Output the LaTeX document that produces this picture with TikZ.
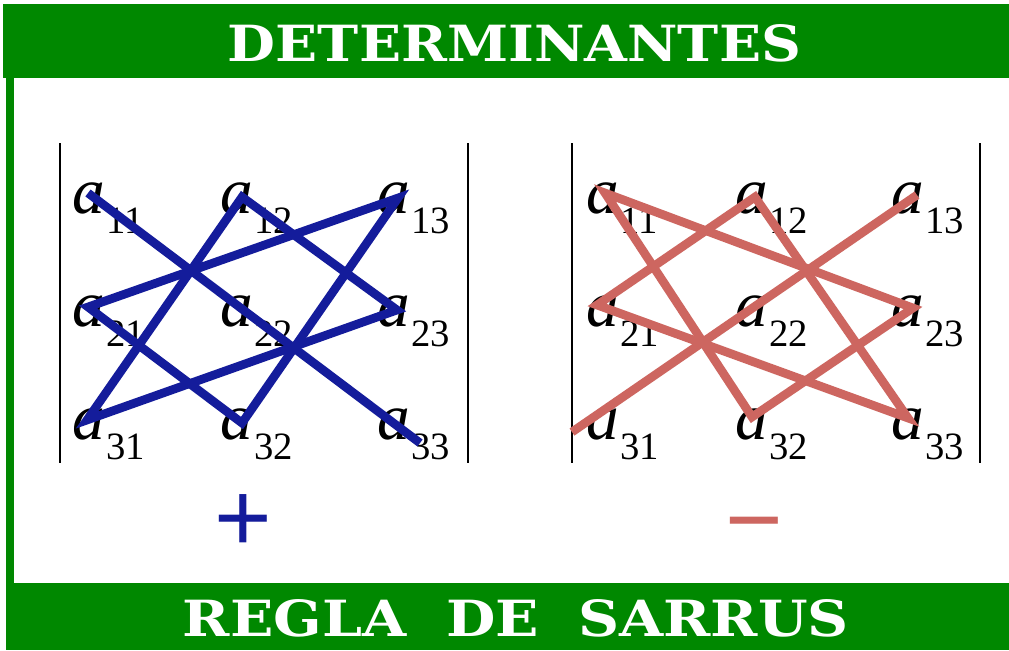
\documentclass[tikz,border=0pt]{standalone}
\usepackage{fontspec}
\setmainfont{Liberation Serif}
\newfontfamily\titlefont{DejaVu Serif}
\newfontfamily\signfont{Liberation Sans}
\definecolor{bandgreen}{RGB}{0,136,0}
\definecolor{plusblue}{RGB}{20,28,155}
\definecolor{minusred}{RGB}{205,102,96}
\newcommand\sarrusentry[1]{\fontsize{49}{49}\selectfont\textit{a}\kern1pt\raisebox{-15pt}{\fontsize{29}{29}\selectfont #1}}
\tikzset{
  entrynode/.style={inner sep=0pt, anchor=base west, text=black},
  titlenode/.style={inner sep=0pt, text=white},
  barline/.style={line width=1.5pt, black},
  pluslines/.style={line width=6.5pt, plusblue, line join=miter},
  minuslines/.style={line width=6.5pt, minusred, line join=miter},
  signnode/.style={inner sep=0pt, anchor=base, font=\signfont\fontsize{74}{74}\selectfont}
}
\begin{document}
\begin{tikzpicture}[x=0.75pt,y=-0.75pt]
\useasboundingbox (0,0) rectangle (1009,650);
\fill[white] (0,0) rectangle (1009,650);
% green frame
\fill[bandgreen] (3,4) rectangle (1009,78);
\fill[bandgreen] (6,4) rectangle (14,650);
\fill[bandgreen] (6,583) rectangle (1009,650);
% titles
\node[titlenode] (title) at (514.5,43.5) {\resizebox{429.75pt}{27.75pt}{\titlefont\bfseries DETERMINANTES}};
\node[titlenode] (subtitle) at (516,618.5) {\resizebox{499.5pt}{27.75pt}{\titlefont\bfseries REGLA\ \ DE\ \ SARRUS}};
% determinant bars
\coordinate (lbt) at (60,143); \coordinate (lbb) at (60,463);
\coordinate (rbt) at (468,143); \coordinate (rbb) at (468,463);
\coordinate (lbt2) at (572,143); \coordinate (lbb2) at (572,463);
\coordinate (rbt2) at (980,143); \coordinate (rbb2) at (980,463);
\draw[barline] (lbt) -- (lbb);
\draw[barline] (rbt) -- (rbb);
\draw[barline] (lbt2) -- (lbb2);
\draw[barline] (rbt2) -- (rbb2);
% entries left
\node[entrynode] (L11) at (72,213) {\sarrusentry{11}};
\node[entrynode] (L12) at (220,213) {\sarrusentry{12}};
\node[entrynode] (L13) at (377,213) {\sarrusentry{13}};
\node[entrynode] (L21) at (72,326) {\sarrusentry{21}};
\node[entrynode] (L22) at (220,326) {\sarrusentry{22}};
\node[entrynode] (L23) at (377,326) {\sarrusentry{23}};
\node[entrynode] (L31) at (72,439) {\sarrusentry{31}};
\node[entrynode] (L32) at (220,439) {\sarrusentry{32}};
\node[entrynode] (L33) at (377,439) {\sarrusentry{33}};
% entries right
\node[entrynode] (R11) at (586,213) {\sarrusentry{11}};
\node[entrynode] (R12) at (735,213) {\sarrusentry{12}};
\node[entrynode] (R13) at (891,213) {\sarrusentry{13}};
\node[entrynode] (R21) at (586,326) {\sarrusentry{21}};
\node[entrynode] (R22) at (735,326) {\sarrusentry{22}};
\node[entrynode] (R23) at (891,326) {\sarrusentry{23}};
\node[entrynode] (R31) at (586,439) {\sarrusentry{31}};
\node[entrynode] (R32) at (735,439) {\sarrusentry{32}};
\node[entrynode] (R33) at (891,439) {\sarrusentry{33}};
% line end points
\coordinate (b11) at (88,193); \coordinate (b12) at (242,197); \coordinate (b13) at (398,198);
\coordinate (b21) at (88,307); \coordinate (b23) at (397,310);
\coordinate (b31) at (87,420); \coordinate (b32) at (242,423); \coordinate (b33) at (420,443);
\coordinate (r11) at (605,193); \coordinate (r12) at (755,197); \coordinate (r13) at (917,195);
\coordinate (r21) at (597,305); \coordinate (r23) at (913,308);
\coordinate (r31) at (572,432); \coordinate (r32) at (752,417); \coordinate (r33) at (908,418);
% plus lines
\draw[pluslines] (b11) -- (b33);
\draw[pluslines] (b12) -- (b23) -- (b31) -- cycle;
\draw[pluslines] (b13) -- (b21) -- (b32) -- cycle;
% minus lines
\draw[minuslines] (r13) -- (r31);
\draw[minuslines] (r11) -- (r23) -- (r32) -- cycle;
\draw[minuslines] (r12) -- (r21) -- (r33) -- cycle;
% signs
\node[signnode, text=plusblue] (plus) at (243,551) {+};
\node[signnode, text=minusred] (minus) at (754.5,553) {\char"2212};
\end{tikzpicture}
\end{document}
